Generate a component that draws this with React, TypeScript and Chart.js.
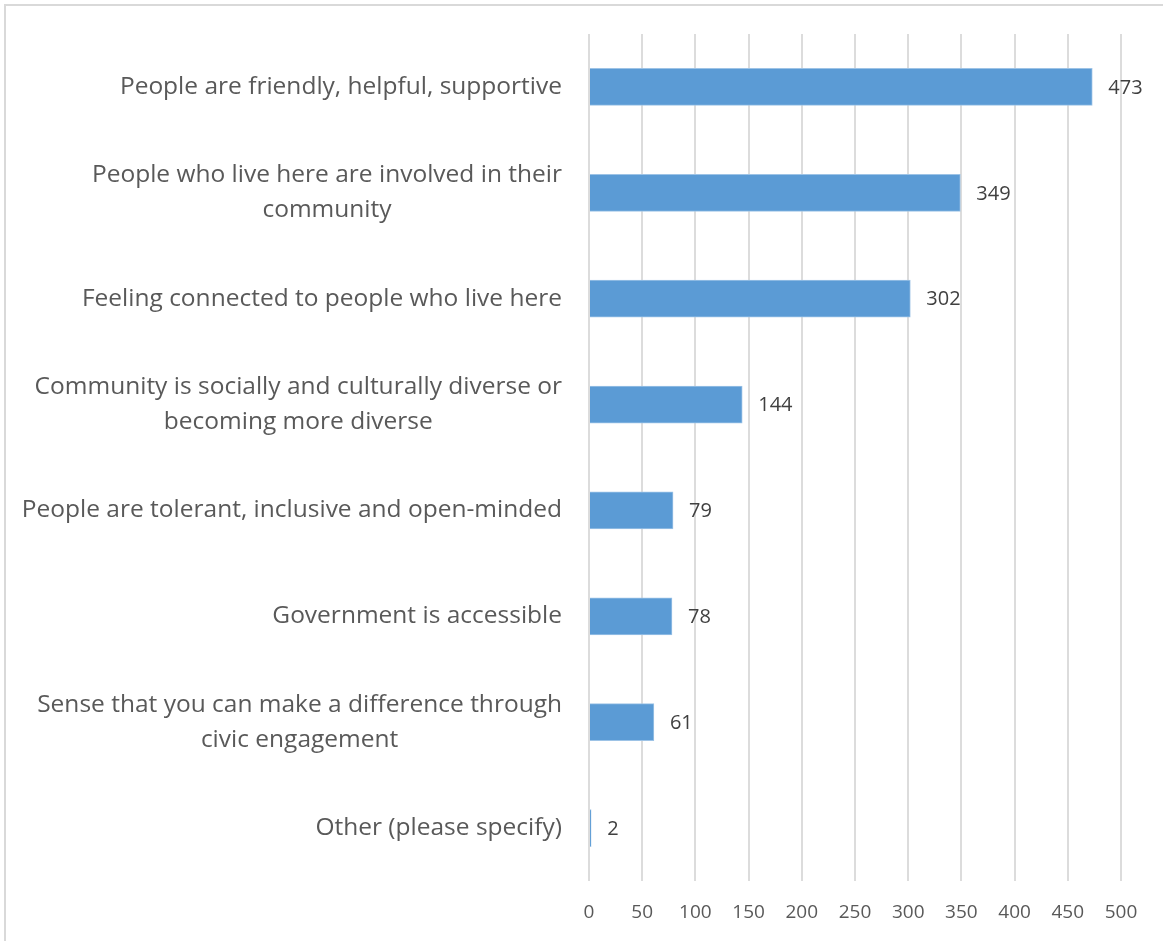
import React, { useEffect, useRef } from "react";
import { Chart, registerables } from "chart.js";

Chart.register(...registerables);

const categories: (string | string[])[] = [
  "People are friendly, helpful, supportive",
  ["People who live here are involved in their", "community"],
  "Feeling connected to people who live here",
  ["Community is socially and culturally diverse or", "becoming more diverse"],
  "People are tolerant, inclusive and open-minded",
  "Government is accessible",
  ["Sense that you can make a difference through", "civic engagement"],
  "Other (please specify)",
];

const values: number[] = [473, 349, 302, 144, 79, 78, 61, 2];

const xTicks: number[] = [0, 50, 100, 150, 200, 250, 300, 350, 400, 450, 500];

const FONT = "'Open Sans', 'Liberation Sans', sans-serif";

const dataLabelPlugin = {
  id: "dataLabels",
  afterDatasetsDraw(chart: any) {
    const { ctx } = chart;
    const meta = chart.getDatasetMeta(0);
    ctx.save();
    ctx.font = `20px ${FONT}`;
    ctx.fillStyle = "#404040";
    ctx.textAlign = "left";
    ctx.textBaseline = "middle";
    meta.data.forEach((bar: any, i: number) => {
      ctx.fillText(String(values[i]), bar.x + 16, bar.y + 1);
    });
    ctx.restore();
  },
};

const categoryLabelPlugin = {
  id: "categoryLabels",
  afterDraw(chart: any) {
    const { ctx } = chart;
    const yScale = chart.scales.y;
    const rightEdge = 562;
    const lineH = 35;
    ctx.save();
    ctx.font = `24.5px ${FONT}`;
    ctx.fillStyle = "#595959";
    ctx.textAlign = "center";
    ctx.textBaseline = "middle";
    categories.forEach((label, i) => {
      const lines = Array.isArray(label) ? label : [label];
      const blockW = Math.max(...lines.map((l) => ctx.measureText(l).width));
      const cx = rightEdge - blockW / 2;
      const cy = yScale.getPixelForTick(i);
      const startY = cy - ((lines.length - 1) * lineH) / 2;
      lines.forEach((l, j) => {
        ctx.fillText(l, cx, startY + j * lineH);
      });
    });
    ctx.restore();
  },
};

export default function App() {
  const canvasRef = useRef<HTMLCanvasElement | null>(null);

  useEffect(() => {
    if (!canvasRef.current) return;
    const chart = new Chart(canvasRef.current, {
      type: "bar",
      data: {
        labels: categories,
        datasets: [
          {
            data: values,
            backgroundColor: "#5B9BD5",
            borderColor: "#9DC3E6",
            borderWidth: 1,
            barThickness: 37,
          },
        ],
      },
      options: {
        indexAxis: "y",
        animation: false,
        responsive: false,
        maintainAspectRatio: false,
        layout: { padding: { top: 34, right: 42, bottom: 0, left: 0 } },
        plugins: {
          legend: { display: false },
          tooltip: { enabled: false },
        },
        scales: {
          x: {
            min: 0,
            max: 500,
            afterBuildTicks: (scale: any) => {
              scale.ticks = xTicks.map((v) => ({ value: v }));
            },
            afterFit: (scale: any) => {
              scale.height = 60;
            },
            grid: {
              color: "#dcdcdc",
              lineWidth: 2,
              drawTicks: false,
            },
            border: { display: false },
            ticks: {
              padding: 20,
              color: "#595959",
              font: { family: FONT, size: 19 },
            },
          },
          y: {
            afterFit: (scale: any) => {
              scale.width = 589;
            },
            grid: { display: false, drawTicks: false },
            border: { display: false },
            ticks: { display: false },
          },
        },
      },
      plugins: [dataLabelPlugin, categoryLabelPlugin],
    });
    return () => chart.destroy();
  }, []);

  return (
    <div
      style={{
        position: "fixed",
        left: 0,
        top: 0,
        width: 1163,
        height: 941,
        background: "#ffffff",
        overflow: "hidden",
      }}
    >
      <div
        style={{
          position: "absolute",
          left: 4,
          top: 4,
          width: 1180,
          height: 960,
          border: "2px solid #d9d9d9",
          boxSizing: "border-box",
        }}
      />
      <canvas
        ref={canvasRef}
        width={1163}
        height={941}
        style={{ position: "absolute", left: 0, top: 0, width: 1163, height: 941 }}
      />
    </div>
  );
}
